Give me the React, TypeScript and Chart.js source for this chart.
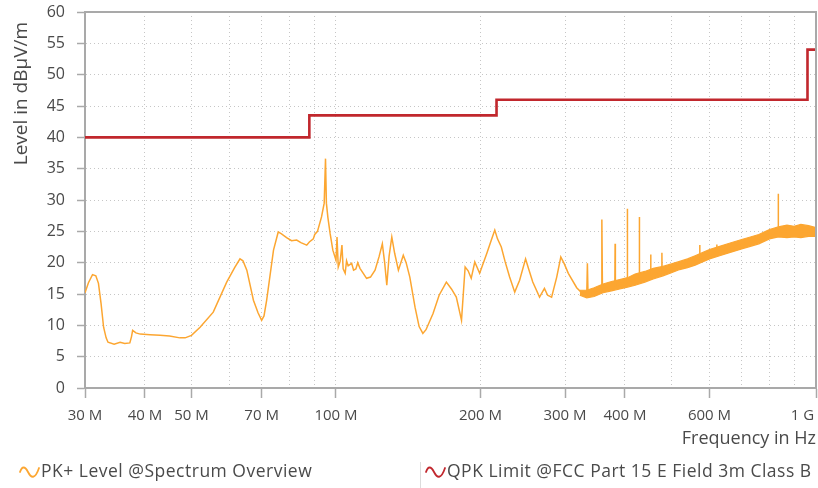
import React, { useEffect, useRef } from "react";
import { Chart, registerables } from "chart.js";

Chart.register(...registerables);

// PK+ trace (frequency in MHz, level in dBµV/m)
const pkFreqMHz = [
  30, 30.5, 31.1, 31.6, 32.0, 32.4, 32.8, 33.2, 33.5, 34.5, 35.5, 36.3, 37.2, 37.5, 37.7, 38.3, 39.1,
  41.0, 43.0, 45.0, 47.3, 48.5, 50.0, 52.1, 55.5, 59.2, 61.5, 63.1, 64.0, 65.2, 67.3, 68.8, 70.0, 70.8,
  71.7, 74.1, 75.8, 77.0, 78.9, 80.8, 82.8, 84.5, 86.9, 88.0, 89.7, 90.3, 91.5, 93.3, 94.5, 95.1, 95.5,
  96.2, 97.2, 98.5, 100.0, 100.5, 101.1, 102.0, 102.9, 103.5, 104.5, 105.2, 106.0, 107.8, 108.8, 110.0,
  111.0, 112.2, 115.8,
  118.0, 120.6, 123.0, 124.9, 126.3, 127.6, 129.0, 130.7, 132.5, 134.9, 136.5, 138.1, 140.0, 142.5,
  146.1, 149.0, 151.7, 154.0, 159.3, 164.0, 169.8, 174.0, 178.1, 182.6, 185.8, 188.5, 191.3, 194.6,
  199.2, 206.2, 210.0, 214.2, 217.0, 221.0, 225.0, 230.0, 235.7, 241.3, 248.3, 252.0, 257.0, 265.5,
  271.8, 276.0, 281.3, 288.3, 294.0, 299.0, 304.8, 317.3, 325.0, 333.0, 334.0, 335.0, 345, 357, 358,
  359, 370, 381, 381.5, 382, 395, 404, 404.5, 405, 416, 428, 428.5, 429, 440, 452, 452.5, 453, 465,
  477, 477.5, 478, 500, 537, 572, 572.5, 573, 600, 621, 621.5, 622, 680, 739, 801, 834, 834.5, 835,
  870, 930, 1000,
];
const pkLevel = [
  15.2, 16.8, 18.1, 17.9, 16.7, 13.5, 9.7, 8.0, 7.3, 7.0, 7.3, 7.1, 7.2, 8.2, 9.2, 8.8, 8.6,
  8.5, 8.4, 8.3, 8.0, 8.0, 8.4, 9.7, 12.1, 16.9, 19.2, 20.6, 20.3, 18.8, 14.0, 12.0, 10.8, 11.5,
  14.0, 22.0, 24.9, 24.6, 24.0, 23.5, 23.6, 23.2, 22.8, 23.3, 23.8, 24.5, 25.0, 27.3, 29.5, 36.6, 29.5,
  27.2, 24.7, 22.0, 20.4, 24.1, 19.3, 20.2, 22.8, 19.0, 18.3, 20.3, 19.5, 19.9, 18.8, 19.0,
  20.0, 19.1, 17.5,
  17.7, 18.8, 21.0, 23.0, 20.0, 16.4, 21.0, 24.1, 21.5, 18.8, 20.0, 21.2, 20.0, 17.7,
  12.9, 9.8, 8.7, 9.3, 11.9, 14.8, 16.9, 15.8, 14.5, 10.8, 19.3, 18.7, 17.5, 20.1,
  18.3, 21.5, 23.3, 25.2, 23.8, 22.5, 20.2, 17.7, 15.3, 17.2, 20.6, 19.0, 16.9, 14.5,
  15.9, 14.8, 14.5, 17.7, 20.9, 19.8, 18.3, 16.0, 15.2, 15.0, 19.9, 15.0, 15.3, 15.9, 26.9,
  15.9, 16.2, 16.4, 23.0, 16.4, 16.7, 16.9, 28.6, 16.9, 17.2, 17.4, 27.3, 17.4, 17.7, 18.1, 21.3, 18.1, 18.3,
  18.5, 21.6, 18.5, 19.1, 19.9, 20.7, 22.8, 20.7, 21.3, 21.7, 22.9, 21.7, 22.6, 23.5, 24.5, 24.9, 31.0, 24.9,
  25.0, 25.0, 24.9,
];

// Noise band of the PK+ trace above 320 MHz (upper / lower edge)
const bandFreqMHz = [
  322, 333, 345, 360, 375, 390, 405, 420, 440, 458, 480, 500, 520, 540, 560, 580, 600,
  630, 660, 700, 730, 760, 800, 835, 870, 900, 930, 965, 1000,
];
const bandUpper = [
  15.6, 15.6, 16.0, 16.6, 17.0, 17.3, 17.6, 18.2, 18.6, 19.1, 19.4, 19.8, 20.2, 20.6, 21.1,
  21.6, 22.1, 22.6, 23.1, 23.7, 24.1, 24.5, 25.3, 25.7, 26.0, 25.8, 26.1, 25.9, 25.6,
];
const bandLower = [
  14.8, 14.4, 14.6, 15.2, 15.5, 15.8, 16.1, 16.4, 16.9, 17.4, 17.9, 18.4, 18.9, 19.2, 19.6,
  20.1, 20.6, 21.1, 21.6, 22.2, 22.6, 23.0, 23.8, 24.1, 24.0, 24.1, 24.0, 24.2, 24.2,
];

// QPK limit (FCC Part 15, Class B, 3 m)
const limitFreqMHz = [30, 88, 88, 216, 216, 960, 960, 1000];
const limitLevel = [40, 40, 43.5, 43.5, 46, 46, 54, 54];

// Axis ticks
const xTickValues = [30, 40, 50, 60, 70, 80, 90, 100, 200, 300, 400, 500, 600, 700, 800, 900, 1000];
const xTickLabels = ["30 M", "40 M", "50 M", "", "70 M", "", "", "100 M", "200 M", "300 M", "400 M", "", "600 M", "", "", "", "1 G"];
const yTickValues = [0, 5, 10, 15, 20, 25, 30, 35, 40, 45, 50, 55, 60];

const seriesNames = ["PK+ Level @Spectrum Overview", "QPK Limit @FCC Part 15 E Field 3m Class B"];

const ORANGE = "#fca631";
const RED = "#c1272d";
const AXIS = "#a9a9a9";
const GRID = "#c6c6c6";
const TEXT = "#4a4a4a";
const FONT = "'Open Sans', 'Noto Sans', sans-serif";

function xLabel(v: number): string {
  const i = xTickValues.indexOf(v);
  if (i < 0) return "";
  const l = xTickLabels[i];
  if (v === 1000) return l + "\u00a0\u00a0\u00a0\u00a0\u00a0\u00a0\u00a0";
  return l;
}

const framePlugin = {
  id: "frame",
  afterDatasetsDraw(chart: any) {
    const { ctx, chartArea } = chart;
    ctx.save();
    ctx.strokeStyle = AXIS;
    ctx.lineWidth = 2;
    ctx.beginPath();
    ctx.moveTo(chartArea.left, chartArea.top);
    ctx.lineTo(chartArea.right, chartArea.top);
    ctx.lineTo(chartArea.right, chartArea.bottom);
    ctx.stroke();
    ctx.restore();
  },
};

function Wave({ color }: { color: string }) {
  return (
    <svg width="22" height="14" viewBox="0 0 22 14" style={{ display: "block" }}>
      <path d="M1 6 C 3 0, 6 0, 9 6 S 16 14, 20 2" fill="none" stroke={color} strokeWidth="1.8" strokeLinecap="round" />
    </svg>
  );
}

export default function App() {
  const ref = useRef<HTMLCanvasElement | null>(null);

  useEffect(() => {
    document.body.style.margin = "0";
    const canvas = ref.current;
    if (!canvas) return;
    const pk = pkFreqMHz.map((f, i) => ({ x: f, y: pkLevel[i] }));
    const up = bandFreqMHz.map((f, i) => ({ x: f, y: bandUpper[i] }));
    const lo = bandFreqMHz.map((f, i) => ({ x: f, y: bandLower[i] }));
    const lim = limitFreqMHz.map((f, i) => ({ x: f, y: limitLevel[i] }));

    const chart = new Chart(canvas, {
      type: "line",
      data: {
        datasets: [
          { label: seriesNames[1], data: lim, borderColor: RED, borderWidth: 2.6, pointRadius: 0, tension: 0, fill: false, order: 0 },
          { label: seriesNames[0], data: pk, borderColor: ORANGE, borderWidth: 1.5, pointRadius: 0, tension: 0, fill: false, order: 1 },
          { label: "band-upper", data: up, borderColor: ORANGE, backgroundColor: ORANGE, borderWidth: 1.2, pointRadius: 0, tension: 0, fill: "+1", order: 2 },
          { label: "band-lower", data: lo, borderColor: ORANGE, borderWidth: 1.2, pointRadius: 0, tension: 0, fill: false, order: 3 },
        ] as any,
      },
      options: {
        animation: false,
        responsive: false,
        maintainAspectRatio: false,
        layout: { padding: { left: 0, right: 2, top: 12, bottom: 38 } },
        plugins: {
          legend: { display: false },
          tooltip: { enabled: false },
        },
        scales: {
          x: {
            type: "logarithmic",
            min: 30,
            max: 1000,
            afterBuildTicks: (s: any) => {
              s.ticks = xTickValues.map((v) => ({ value: v }));
            },
            afterFit: (s: any) => {
              s.height = 62;
              s.paddingLeft = 0;
              s.paddingRight = 0;
            },
            ticks: {
              autoSkip: false,
              maxRotation: 0,
              minRotation: 0,
              padding: 9,
              color: TEXT,
              font: { family: FONT, size: 15 },
              callback: (v: any) => xLabel(Number(v)),
            },
            grid: {
              color: GRID,
              lineWidth: 1,
              tickLength: 10,
              tickWidth: 1.5,
              tickColor: (ctx: any) => (ctx.tick && xLabel(ctx.tick.value) ? AXIS : "rgba(0,0,0,0)"),
            },
            border: { display: true, color: AXIS, width: 2, dash: [1, 3] },
            title: {
              display: true,
              text: "Frequency in Hz",
              align: "end",
              color: TEXT,
              font: { family: FONT, size: 18 },
              padding: 0,
            },
          },
          y: {
            min: 0,
            max: 60,
            afterBuildTicks: (s: any) => {
              s.ticks = yTickValues.map((v) => ({ value: v }));
            },
            afterFit: (s: any) => {
              s.width = 85;
              s.paddingTop = 0;
              s.paddingBottom = 0;
            },
            ticks: {
              padding: 12,
              color: TEXT,
              font: { family: FONT, size: 16 },
            },
            grid: {
              color: GRID,
              lineWidth: 1,
              tickLength: 8,
              tickWidth: 1.5,
              tickColor: AXIS,
            },
            border: { display: true, color: AXIS, width: 2, dash: [1, 3] },
            title: {
              display: true,
              text: "Level in dBµV/m\u00a0\u00a0",
              align: "end",
              color: TEXT,
              font: { family: FONT, size: 19 },
              padding: { top: 10, bottom: 0 },
            },
          },
        },
      } as any,
      plugins: [framePlugin],
    });
    return () => chart.destroy();
  }, []);

  const legendText: React.CSSProperties = {
    position: "absolute",
    top: 462,
    fontFamily: FONT,
    fontSize: 17.5,
    letterSpacing: "0.5px",
    lineHeight: "17.5px",
    color: TEXT,
    whiteSpace: "nowrap",
  };

  return (
    <div style={{ position: "relative", width: 818, height: 488, overflow: "hidden", background: "#fff" }}>
      <canvas ref={ref} width={818} height={488} style={{ display: "block", width: 818, height: 488 }} />
      <div style={{ position: "absolute", left: 19, top: 466 }}>
        <Wave color={ORANGE} />
      </div>
      <div style={{ ...legendText, left: 41 }}>{seriesNames[0]}</div>
      <div style={{ position: "absolute", left: 420, top: 462, width: 1, height: 26, background: "#dcdcdc" }} />
      <div style={{ position: "absolute", left: 425, top: 466 }}>
        <Wave color={RED} />
      </div>
      <div style={{ ...legendText, left: 447 }}>{seriesNames[1]}</div>
    </div>
  );
}
